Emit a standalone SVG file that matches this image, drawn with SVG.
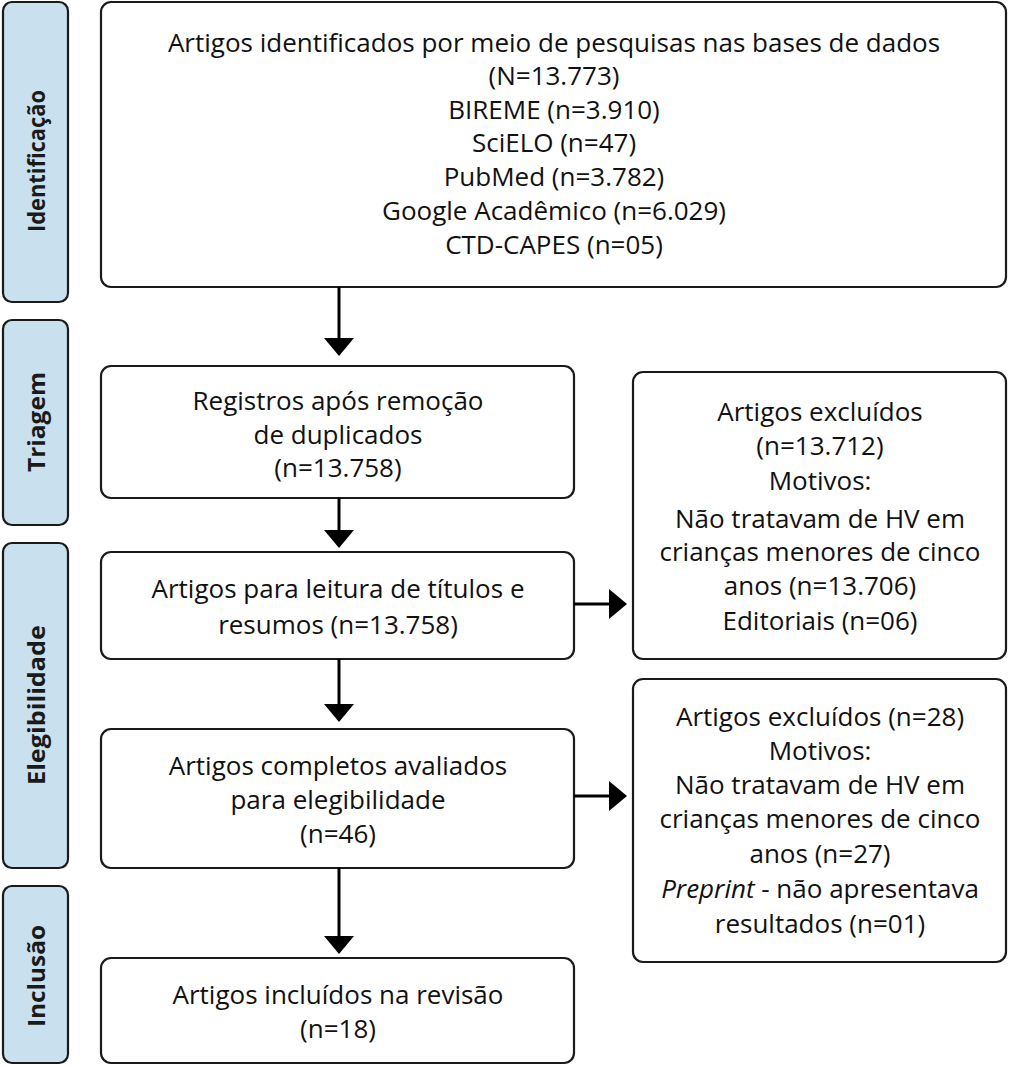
<svg xmlns="http://www.w3.org/2000/svg" width="1009" height="1067" viewBox="0 0 1009 1067">
<style>
.side{fill:#c9e0ee;stroke:#1a1a1a;stroke-width:2.2}
.box{fill:#fff;stroke:#1a1a1a;stroke-width:2.2}
.t{font-family:"Open Sans",sans-serif;font-size:26px;fill:#111;text-anchor:middle}
.s{font-family:"Open Sans",sans-serif;font-size:24px;font-weight:bold;fill:#1a1a1a;text-anchor:middle}
.ln{stroke:#000;stroke-width:3;fill:none}
</style>
<defs>
<marker id="ah" markerUnits="userSpaceOnUse" markerWidth="18" markerHeight="30" viewBox="0 0 18 30" refX="3" refY="15" orient="auto">
<path d="M0,0 L18,15 L0,30 Z" fill="#000"/>
</marker>
</defs>
<rect width="1009" height="1067" fill="#fff"/>
<g id="side-identificacao"><rect class="side" x="3" y="2" width="65" height="300" rx="9"/><text class="s" transform="translate(45,161) rotate(-90)" textLength="142" lengthAdjust="spacingAndGlyphs">Identificação</text></g>
<g id="side-triagem"><rect class="side" x="3" y="320" width="65" height="205" rx="9"/><text class="s" transform="translate(45,422) rotate(-90)" textLength="100" lengthAdjust="spacingAndGlyphs">Triagem</text></g>
<g id="side-elegibilidade"><rect class="side" x="3" y="543" width="65" height="325" rx="9"/><text class="s" transform="translate(45,705) rotate(-90)" textLength="160" lengthAdjust="spacingAndGlyphs">Elegibilidade</text></g>
<g id="side-inclusao"><rect class="side" x="3" y="886" width="65" height="177" rx="9"/><text class="s" transform="translate(45,976) rotate(-90)" textLength="102" lengthAdjust="spacingAndGlyphs">Inclusão</text></g>

<g id="n-identificados"><rect class="box" x="101" y="2" width="905" height="285" rx="10"/>
<text class="t" x="554" y="52">Artigos identificados por meio de pesquisas nas bases de dados</text>
<text class="t" x="554" y="85">(N=13.773)</text>
<text class="t" x="554" y="119">BIREME (n=3.910)</text>
<text class="t" x="554" y="152">SciELO (n=47)</text>
<text class="t" x="554" y="186">PubMed (n=3.782)</text>
<text class="t" x="554" y="220">Google Acadêmico (n=6.029)</text>
<text class="t" x="554" y="254">CTD-CAPES (n=05)</text>
</g>
<g id="n-registros"><rect class="box" x="101" y="366" width="473" height="132" rx="10"/>
<text class="t" x="338" y="410">Registros após remoção</text>
<text class="t" x="338" y="444">de duplicados</text>
<text class="t" x="338" y="477">(n=13.758)</text>
</g>
<g id="n-leitura"><rect class="box" x="101" y="552" width="473" height="107" rx="10"/>
<text class="t" x="338" y="598">Artigos para leitura de títulos e</text>
<text class="t" x="338" y="634">resumos (n=13.758)</text>
</g>
<g id="n-completos"><rect class="box" x="101" y="729" width="473" height="139" rx="10"/>
<text class="t" x="338" y="775">Artigos completos avaliados</text>
<text class="t" x="338" y="809">para elegibilidade</text>
<text class="t" x="338" y="843">(n=46)</text>
</g>
<g id="n-incluidos"><rect class="box" x="101" y="958" width="473" height="105" rx="10"/>
<text class="t" x="338" y="1004">Artigos incluídos na revisão</text>
<text class="t" x="338" y="1038">(n=18)</text>
</g>
<g id="n-excluidos1"><rect class="box" x="633" y="372" width="373" height="287" rx="10"/>
<text class="t" x="820" y="421">Artigos excluídos</text>
<text class="t" x="820" y="455">(n=13.712)</text>
<text class="t" x="820" y="490">Motivos:</text>
<text class="t" x="820" y="528">Não tratavam de HV em</text>
<text class="t" x="820" y="561">crianças menores de cinco</text>
<text class="t" x="820" y="595">anos (n=13.706)</text>
<text class="t" x="820" y="630">Editoriais (n=06)</text>
</g>
<g id="n-excluidos2"><rect class="box" x="633" y="679" width="373" height="283" rx="10"/>
<text class="t" x="820" y="726">Artigos excluídos (n=28)</text>
<text class="t" x="820" y="760">Motivos:</text>
<text class="t" x="820" y="794">Não tratavam de HV em</text>
<text class="t" x="820" y="828">crianças menores de cinco</text>
<text class="t" x="820" y="863">anos (n=27)</text>
<text class="t" x="820" y="898"><tspan font-style="italic">Preprint</tspan> - não apresentava</text>
<text class="t" x="820" y="933">resultados (n=01)</text>
</g>
<g id="connectors">
<line class="ln" x1="339" y1="287" x2="339" y2="341" marker-end="url(#ah)"/>
<line class="ln" x1="339" y1="498" x2="339" y2="533" marker-end="url(#ah)"/>
<line class="ln" x1="339" y1="659" x2="339" y2="707" marker-end="url(#ah)"/>
<line class="ln" x1="339" y1="868" x2="339" y2="939" marker-end="url(#ah)"/>
<line class="ln" x1="574" y1="604" x2="612" y2="604" marker-end="url(#ah)"/>
<line class="ln" x1="574" y1="796" x2="612" y2="796" marker-end="url(#ah)"/>
</g>
</svg>
